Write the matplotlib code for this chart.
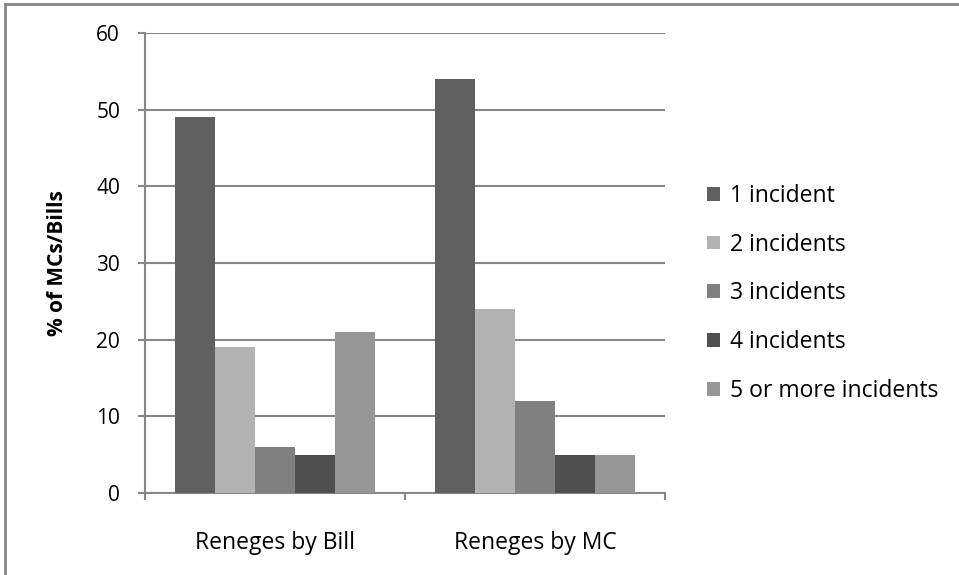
import numpy as np
import matplotlib.pyplot as plt
from matplotlib.lines import Line2D

categories = ['Reneges by Bill', 'Reneges by MC']
series_names = ['1 incident', '2 incidents', '3 incidents', '4 incidents', '5 or more incidents']
one_incident = [49, 54]
two_incidents = [19, 24]
three_incidents = [6, 12]
four_incidents = [5, 5]
five_plus = [21, 5]
yticks = [0, 10, 20, 30, 40, 50, 60]

series = [one_incident, two_incidents, three_incidents, four_incidents, five_plus]
colors = ['#606060', '#b2b2b2', '#808080', '#4f4f4f', '#969696']
grid_col = '#868686'

plt.rcParams['font.family'] = ['Open Sans', 'DejaVu Sans']

fig = plt.figure(figsize=(9.59, 5.75), dpi=100)
ax = fig.add_axes([0.1512, 0.1426, 0.5422, 0.80])

x = np.arange(len(categories))
w = 0.1545
for i, (vals, c, name) in enumerate(zip(series, colors, series_names)):
    ax.bar(x + (i - 2) * w, vals, w, color=c, label=name, zorder=3)

ax.set_xlim(-0.5, 1.5)
ax.set_ylim(0, 60)
ax.set_yticks(yticks)
ax.set_yticklabels([str(t) for t in yticks], fontsize=15)
ax.yaxis.grid(True, color=grid_col, linewidth=1.5, zorder=0)

ax.set_xticks([-0.5, 0.5, 1.5])
ax.set_xticklabels([])
ax.set_xticks(x, minor=True)
ax.set_xticklabels(categories, minor=True, fontsize=16.5)
ax.tick_params(axis='x', which='minor', length=0, pad=27)
ax.tick_params(axis='x', which='major', length=5, width=1.5, color=grid_col)
ax.tick_params(axis='y', length=5, width=1.5, color=grid_col, pad=13)

for side in ['top', 'right']:
    ax.spines[side].set_visible(False)
for side in ['left', 'bottom']:
    ax.spines[side].set_color(grid_col)
    ax.spines[side].set_linewidth(1.5)

ax.set_ylabel('% of MCs/Bills', fontsize=15, fontweight='bold', labelpad=20)

ax.legend(loc='center left', bbox_to_anchor=(1.042, 0.434), frameon=False,
          fontsize=16.5, handlelength=0.55, handleheight=0.55, handletextpad=0.45,
          labelspacing=1.08)

# outer chart frame
fig.add_artist(Line2D([5 / 959, 1], [1 - 4 / 575, 1 - 4 / 575], color=grid_col, linewidth=2))
fig.add_artist(Line2D([5 / 959, 5 / 959], [0, 1 - 4 / 575], color=grid_col, linewidth=2))

fig.savefig('out.png', dpi=100)
